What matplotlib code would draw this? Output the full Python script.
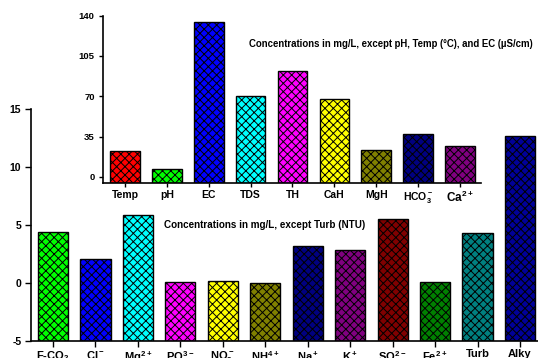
import matplotlib.pyplot as plt

plt.rcParams['font.family'] = ['Liberation Sans', 'DejaVu Sans']
plt.rcParams['font.weight'] = 'bold'
plt.rcParams['mathtext.fontset'] = 'custom'
plt.rcParams['mathtext.bf'] = 'Liberation Sans:bold'
plt.rcParams['mathtext.rm'] = 'Liberation Sans:bold'
plt.rcParams['mathtext.default'] = 'bf'
plt.rcParams['axes.unicode_minus'] = False
plt.rcParams['hatch.linewidth'] = 0.7
plt.rcParams['hatch.color'] = '#111111'

# main panel (mg/L, Turb in NTU)
main_labels = ['F-CO$_2$', 'Cl$^-$', 'Mg$^{2+}$', 'PO$_4^{3-}$', 'NO$_3^-$', 'NH$^{4+}$',
               'Na$^+$', 'K$^+$', 'SO$_4^{2-}$', 'Fe$^{2+}$', 'Turb', 'Alky']
main_values = [4.4, 2.1, 5.9, 0.1, 0.17, 0.0, 3.2, 2.85, 5.5, 0.06, 4.3, 12.7]
main_colors = ['#00FF00', '#0000FF', '#00FFFF', '#FF00FF', '#FFFF00', '#808000',
               '#000080', '#800080', '#800000', '#008000', '#008080', '#000099']

# inset panel
inset_labels = ['Temp', 'pH', 'EC', 'TDS', 'TH', 'CaH', 'MgH', 'HCO$_3^-$', 'Ca$^{2+}$']
inset_values = [22.6, 6.7, 134.5, 70.4, 91.9, 67.8, 23.8, 37.1, 27.0]
inset_colors = ['#FF0000', '#00FF00', '#0000FF', '#00FFFF', '#FF00FF', '#FFFF00',
                '#808000', '#000080', '#800080']

fig = plt.figure(figsize=(5.38, 3.58), dpi=100)

ax = fig.add_axes([0.0576, 0.0475, 0.9424, 0.648])
base = -5
ax.bar(range(len(main_values)), [v - base for v in main_values], bottom=base, width=0.71,
       color=main_colors, edgecolor='black', linewidth=1.0, hatch='xxxx')
ax.set_ylim(-5, 15)
ax.set_xlim(-0.518, 11.425)
ax.set_yticks([-5, 0, 5, 10, 15])
ax.set_xticks(range(len(main_labels)))
ax.set_xticklabels(main_labels, fontsize=8)
ax.tick_params(axis='y', labelsize=7.5, length=4, width=1, direction='out', pad=3)
ax.tick_params(axis='x', length=4, width=1, direction='out', pad=2)
for s in ['top', 'right']:
    ax.spines[s].set_visible(False)
for s in ['left', 'bottom']:
    ax.spines[s].set_linewidth(1.2)
ax.text(0.262, 0.5, 'Concentrations in mg/L, except Turb (NTU)', transform=ax.transAxes,
        fontsize=7.1, fontweight='bold', va='center', ha='left')

ins = fig.add_axes([0.1914, 0.4897, 0.7026, 0.4665])
ins.patch.set_alpha(0)
ins.bar(range(len(inset_values)), [v + 5 for v in inset_values], bottom=-5, width=0.71,
        color=inset_colors, edgecolor='black', linewidth=1.0, hatch='xxxx')
ins.set_ylim(-5, 140)
ins.set_xlim(-0.525, 8.5)
ins.set_yticks([0, 35, 70, 105, 140])
ins.set_xticks(range(len(inset_labels)))
ins.set_xticklabels(inset_labels, fontsize=7.5)
ins.get_xticklabels()[-1].set_fontsize(8.5)
ins.tick_params(axis='y', labelsize=6.8, length=3, width=1, direction='out', pad=3)
ins.tick_params(axis='x', length=3, width=1, direction='out', pad=2)
for s in ['top', 'right']:
    ins.spines[s].set_visible(False)
for s in ['left', 'bottom']:
    ins.spines[s].set_linewidth(1.2)
ins.text(0.385, 0.83, 'Concentrations in mg/L, except pH, Temp (\u00b0C), and EC (\u00b5S/cm)',
         transform=ins.transAxes, fontsize=6.9, fontweight='bold', va='center', ha='left')

fig.savefig('out.png', dpi=100)
